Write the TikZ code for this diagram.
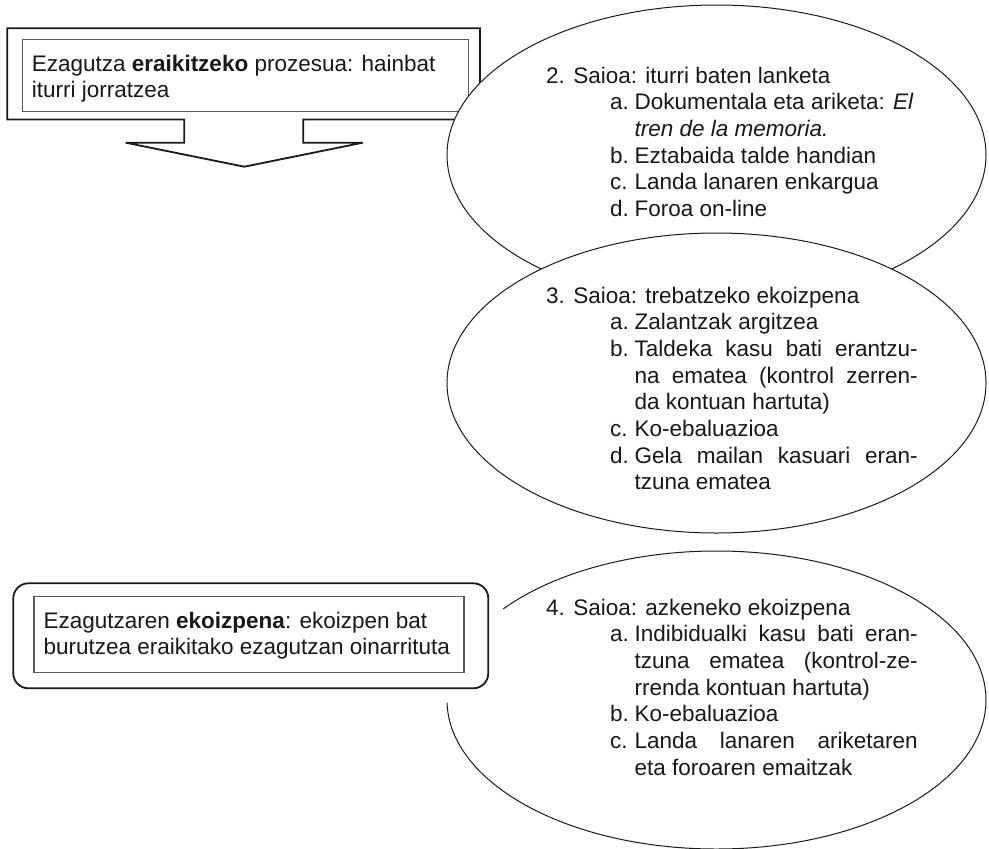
\documentclass[tikz,border=0pt]{standalone}
\usepackage{fontspec}
\setmainfont{Liberation Sans}
\definecolor{ink}{HTML}{1A1A1A}
\definecolor{txt}{HTML}{1A1718}
\definecolor{innerline}{HTML}{5A5A5A}
\newcommand{\HdLine}[1]{\hbox{#1}}
\newcommand{\ItemLine}[2]{\hbox{\hspace*{64pt}\makebox[24.5pt][l]{#1}#2}}
\newcommand{\ItemJust}[2]{\hbox{\hspace*{64pt}\makebox[24.5pt][l]{#1}\makebox[283pt][s]{#2}}}
\newcommand{\ContLine}[1]{\hbox{\hspace*{88.5pt}#1}}
\newcommand{\ContJust}[1]{\hbox{\hspace*{88.5pt}\makebox[283pt][s]{#1}}}
\begin{document}
\begin{tikzpicture}[x=1pt,y=-1pt,
  frame/.style={draw=ink,line width=1.8pt,fill=white,line join=miter},
  innerbox/.style={draw=innerline,line width=1.3pt},
  oval/.style={draw=ink,line width=1pt,fill=white},
  txtnode/.style={inner sep=0pt,anchor=base west,text=txt,font=\fontsize{22.5}{26.7}\selectfont}]
\useasboundingbox (0,0) rectangle (989,849);

% top-left arrow frame
\coordinate (fA) at (7.3,28.3);
\coordinate (fB) at (480,119.5);
\draw[frame] (fA) -- (480,28.3) -- (fB) -- (303.3,119.5) -- (303.3,142.7) -- (362.7,142.7)
  -- (244.3,166.7) -- (125.7,142.7) -- (184.3,142.7) -- (184.3,119.5) -- (7.3,119.5) -- cycle;
\coordinate (iA) at (22.7,39.3);
\coordinate (iB) at (468.3,111.7);
\draw[innerbox] (iA) rectangle (iB);
\node[txtnode] (t1) at (31.7,71) {\vtop{\HdLine{Ezagutza \textbf{eraikitzeko} prozesua: hainbat}\HdLine{iturri jorratzea}}};

% ellipse 1
\coordinate (c1) at (716.5,155);
\draw[oval] (c1) ellipse [x radius=269.5pt, y radius=150pt];
\node[txtnode] (e1) at (546,83) {\vtop{%
  \HdLine{2. Saioa: iturri baten lanketa}%
  \ItemLine{a.}{Dokumentala eta ariketa: \textit{El}}%
  \ContLine{\textit{tren de la memoria.}}%
  \ItemLine{b.}{Eztabaida talde handian}%
  \ItemLine{c.}{Landa lanaren enkargua}%
  \ItemLine{d.}{Foroa on-line}}};

% ellipse 2
\coordinate (c2) at (716.5,383);
\draw[oval] (c2) ellipse [x radius=269.5pt, y radius=150pt];
\node[txtnode] (e2) at (546,303) {\vtop{%
  \HdLine{3. Saioa: trebatzeko ekoizpena}%
  \ItemLine{a.}{Zalantzak argitzea}%
  \ItemJust{b.}{Taldeka kasu bati erantzu-}%
  \ContJust{na ematea (kontrol zerren-}%
  \ContLine{da kontuan hartuta)}%
  \ItemLine{c.}{Ko-ebaluazioa}%
  \ItemJust{d.}{Gela mailan kasuari eran-}%
  \ContLine{tzuna ematea}}};

% ellipse 3 (open arc, partly hidden near the box)
\coordinate (c3) at (716.5,700);
\draw[draw=ink,line width=1pt] ([shift={(181:269.5pt and 149pt)}]c3)
  arc[start angle=181, end angle=502.3, x radius=269.5pt, y radius=149pt];
\node[txtnode] (e3) at (546,615) {\vtop{%
  \HdLine{4. Saioa: azkeneko ekoizpena}%
  \ItemJust{a.}{Indibidualki kasu bati eran-}%
  \ContJust{tzuna ematea (kontrol-ze-}%
  \ContLine{rrenda kontuan hartuta)}%
  \ItemLine{b.}{Ko-ebaluazioa}%
  \ItemJust{c.}{Landa lanaren ariketaren}%
  \ContLine{eta foroaren emaitzak}}};

% bottom-left rounded box
\coordinate (bA) at (13.3,583.3);
\coordinate (bB) at (488.3,688.3);
\draw[frame,rounded corners=15pt] (bA) rectangle (bB);
\coordinate (jA) at (34,596.7);
\coordinate (jB) at (464,672.3);
\draw[innerbox] (jA) rectangle (jB);
\node[txtnode] (t2) at (43.3,628) {\vtop{\HdLine{Ezagutzaren \textbf{ekoizpena}: ekoizpen bat}\HdLine{burutzea eraikitako ezagutzan oinarrituta}}};
\end{tikzpicture}
\end{document}
